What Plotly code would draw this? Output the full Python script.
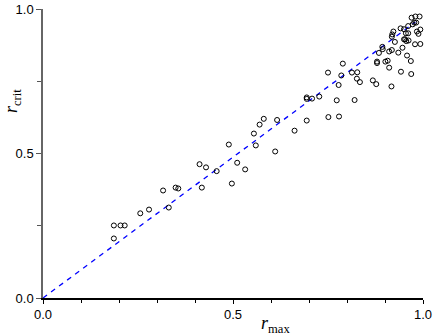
import plotly.graph_objects as go

r_max = [0.1865, 0.1865, 0.204, 0.215, 0.256, 0.279, 0.316, 0.331, 0.349, 0.356,
         0.412, 0.418, 0.429, 0.457, 0.489, 0.497, 0.511, 0.532, 0.555, 0.560,
         0.570, 0.581, 0.611, 0.616, 0.662, 0.694, 0.694, 0.694, 0.708, 0.727,
         0.750, 0.751, 0.773, 0.778, 0.779, 0.785, 0.789, 0.813, 0.820, 0.826,
         0.827, 0.834, 0.868, 0.877, 0.879, 0.879, 0.884, 0.893, 0.894, 0.901,
         0.907, 0.911, 0.911, 0.917, 0.918, 0.918, 0.919, 0.922, 0.926, 0.935,
         0.941, 0.942, 0.946, 0.950, 0.950, 0.955, 0.956, 0.958, 0.961, 0.962,
         0.961, 0.968, 0.969, 0.970, 0.973, 0.977, 0.979, 0.980, 0.982, 0.984,
         0.988, 0.991, 0.993, 0.993, 0.953]
r_crit = [0.251, 0.206, 0.251, 0.251, 0.293, 0.306, 0.372, 0.313, 0.382, 0.379,
          0.463, 0.382, 0.452, 0.439, 0.531, 0.396, 0.468, 0.445, 0.569, 0.528,
          0.600, 0.620, 0.507, 0.616, 0.579, 0.614, 0.694, 0.689, 0.690, 0.697,
          0.780, 0.626, 0.684, 0.737, 0.628, 0.770, 0.811, 0.780, 0.685, 0.759,
          0.781, 0.747, 0.753, 0.740, 0.818, 0.813, 0.848, 0.869, 0.861, 0.818,
          0.821, 0.797, 0.853, 0.732, 0.858, 0.904, 0.912, 0.922, 0.886, 0.849,
          0.933, 0.783, 0.866, 0.895, 0.930, 0.916, 0.889, 0.839, 0.941, 0.891,
          0.916, 0.820, 0.775, 0.970, 0.947, 0.953, 0.878, 0.974, 0.953, 0.922,
          0.914, 0.974, 0.929, 0.879, 0.895]

line_x = [0.0, 0.98]
line_y = [0.0, 0.955]

fig = go.Figure()
fig.add_trace(go.Scatter(x=line_x, y=line_y, mode="lines",
                         line=dict(color="#0000ff", width=1.3, dash="5px,5px"),
                         hoverinfo="skip", cliponaxis=False))
fig.add_trace(go.Scatter(x=r_max, y=r_crit, mode="markers",
                         marker=dict(symbol="circle-open", size=5, color="black",
                                     line=dict(width=1, color="black")),
                         cliponaxis=False))

tickfont = dict(family="Liberation Sans, Arial", size=13, color="black")
fig.update_layout(
    width=436, height=335,
    margin=dict(l=43, r=13, t=9, b=37, autoexpand=False),
    paper_bgcolor="white", plot_bgcolor="white",
    showlegend=False,
    xaxis=dict(range=[0, 1], tickvals=[0, 0.5, 1.0], ticktext=["0.0", "0.5", "1.0"],
               automargin=False,
               ticks="outside", ticklen=4, tickwidth=1, tickcolor="black",
               minor=dict(dtick=0.1, tick0=0, ticks="outside", ticklen=3, tickcolor="black", showgrid=False),
               showline=True, linecolor="black", linewidth=1.5,
               showgrid=False, zeroline=False, tickfont=tickfont),
    yaxis=dict(range=[0, 1], tickvals=[0, 0.5, 1.0], ticktext=["0.0", "0.5", "1.0"],
               automargin=False,
               ticks="outside", ticklen=5, tickwidth=1, tickcolor="#555",
               minor=dict(dtick=0.25, tick0=0, ticks="outside", ticklen=4, tickcolor="#555", showgrid=False),
               showline=True, linecolor="#666", linewidth=1.5,
               showgrid=False, zeroline=False, tickfont=tickfont),
    annotations=[
        dict(text="<i>r</i><sub>max</sub>", xref="paper", yref="paper",
             x=0.613, y=-0.045, xanchor="center", yanchor="top", showarrow=False,
             font=dict(family="Liberation Serif, Times New Roman", size=18, color="black")),
        dict(text="<i>r</i><sub>crit</sub>", xref="paper", yref="paper",
             x=-0.08, y=0.68, xanchor="center", yanchor="middle", showarrow=False,
             textangle=-90,
             font=dict(family="Liberation Serif, Times New Roman", size=18, color="black")),
    ],
)

fig.write_html("out.html", config={"displayModeBar": False},
               post_script="document.body.style.margin='0';document.body.style.overflow='hidden';")
